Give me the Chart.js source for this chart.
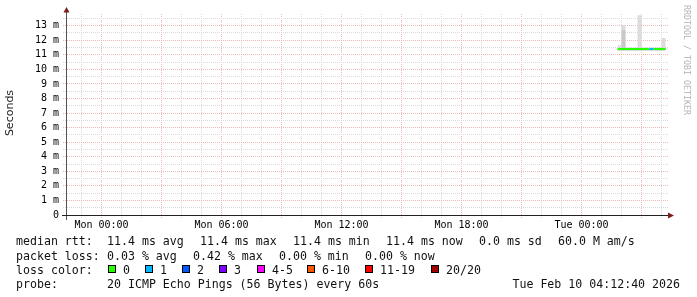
<!DOCTYPE html>
<html><head><meta charset="utf-8">
<script src="https://cdn.jsdelivr.net/npm/chart.js@4.4.1/dist/chart.umd.min.js"></script>
<style>
html,body{margin:0;padding:0;background:#fff;}
#wrap{position:relative;width:697px;height:297px;overflow:hidden;background:#fff;}
#c{position:absolute;left:0;top:0;}
.t{position:absolute;font-family:'DejaVu Sans Mono',monospace;font-size:11.6px;line-height:14px;height:14px;color:#111;white-space:pre;}
.box{position:absolute;width:6px;height:6px;border:1px solid #000;}
.rot{position:absolute;white-space:pre;text-align:center;transform-origin:50% 50%;}
</style></head>
<body>
<div id="wrap">
<canvas id="c" width="697" height="297"></canvas>
<div class="rot" style="left:-15px;top:106px;width:50px;height:14px;line-height:14px;transform:rotate(-90deg);font-family:'DejaVu Sans',sans-serif;font-size:11px;color:#222;">Seconds</div>
<div class="rot" style="left:627px;top:55px;width:120px;height:10px;line-height:10px;transform:rotate(90deg);font-family:'DejaVu Sans Mono',monospace;font-size:8.3px;color:#b4b4b4;">RRDTOOL / TOBI OETIKER</div>
<div id="legend"></div>
</div>
<script>
// ---- data (hours since Mon 00:00) ----
const hours      = [25.8, 26.0, 26.2, 26.4, 26.6, 26.8, 27.0, 27.2, 27.4, 27.6, 27.8, 28.0, 28.21];
const medianRtt  = [11.4, 11.4, 11.4, 11.4, 11.4, 11.4, 11.4, 11.4, 11.4, 11.4, 11.4, 11.4, 11.4];
const lossCount  = [0, 0, 0, 0, 0, 0, 0, 0, 1, 0, 0, 0, 0];
const smokeMin   = [11.3, 11.3, 11.3, 11.3, 11.3, 11.3, 11.3, 11.3, 11.3, 11.3, 11.3, 11.3, 11.3];
const smokeInner = [11.45, 12.7, 11.45, 11.45, 11.45, 11.45, 11.45, 11.45, 11.45, 11.45, 11.45, 11.45, 11.45];
const smokeMax   = [11.65, 13.05, 11.5, 11.5, 11.5, 13.72, 11.5, 11.5, 11.5, 11.5, 11.5, 12.15, 12.15];
const xTickLabels = {0: 'Mon 00:00', 6: 'Mon 06:00', 12: 'Mon 12:00', 18: 'Mon 18:00', 24: 'Tue 00:00'};
const lossLabels = ['0', '1', '2', '3', '4-5', '6-10', '11-19', '20/20'];
const lossColors = ['#26ff00', '#00b8ff', '#0059ff', '#7e00ff', '#ff00ff', '#ff5500', '#ff0000', '#a10000'];
const rttStats   = ['11.4 ms avg', '11.4 ms max', '11.4 ms min', '11.4 ms now', '0.0 ms sd', '60.0 M am/s'];
const lossStats  = ['0.03 % avg', '0.42 % max', '0.00 % min', '0.00 % now'];
const probeText  = '20 ICMP Echo Pings (56 Bytes) every 60s';
const stampText  = 'Tue Feb 10 04:12:40 2026';

function lossIndex(n){
  if (n <= 3) return n;
  if (n <= 5) return 4;
  if (n <= 10) return 5;
  if (n <= 19) return 6;
  return 7;
}
const pts = arr => hours.map((h, i) => ({x: h, y: arr[i]}));

const MAJOR = '#efb8b8', MINOR = '#dadada';

const axesPlugin = {
  id: 'rrdAxes',
  afterDatasetsDraw(chart){
    const {ctx, chartArea: a} = chart;
    ctx.save();
    ctx.lineWidth = 1;
    ctx.strokeStyle = '#555';
    ctx.beginPath();
    ctx.moveTo(a.left - 0.5, 12);
    ctx.lineTo(a.left - 0.5, a.bottom + 5);
    ctx.stroke();
    ctx.strokeStyle = '#222';
    ctx.beginPath();
    ctx.moveTo(a.left - 5, a.bottom + 0.5);
    ctx.lineTo(a.right, a.bottom + 0.5);
    ctx.stroke();
    ctx.fillStyle = '#7f1d1d';
    ctx.beginPath();
    ctx.moveTo(a.left - 0.5, 7);
    ctx.lineTo(a.left - 3.5, 12.5);
    ctx.lineTo(a.left + 2.5, 12.5);
    ctx.closePath(); ctx.fill();
    ctx.beginPath();
    ctx.moveTo(a.right + 6, a.bottom + 0.5);
    ctx.lineTo(a.right, a.bottom - 2.5);
    ctx.lineTo(a.right, a.bottom + 3.5);
    ctx.closePath(); ctx.fill();
    ctx.restore();
  }
};

new Chart(document.getElementById('c'), {
  type: 'line',
  data: {
    datasets: [
      {data: pts(smokeMin), order: 4, stepped: 'before', borderWidth: 0, pointRadius: 0, fill: false, borderColor: 'rgba(0,0,0,0)'},
      {data: pts(smokeMax), order: 3, stepped: 'before', borderWidth: 0, pointRadius: 0, fill: 0, backgroundColor: '#dcdcdc', borderColor: 'rgba(0,0,0,0)'},
      {data: pts(smokeInner), order: 2, stepped: 'before', borderWidth: 0, pointRadius: 0, fill: 0, backgroundColor: '#c9c9c9', borderColor: 'rgba(0,0,0,0)'},
      {data: pts(medianRtt), order: 1, stepped: 'before', borderWidth: 2, pointRadius: 0, fill: false,
       borderColor: lossColors[0],
       segment: {borderColor: c => lossColors[lossIndex(lossCount[c.p0DataIndex])]}}
    ]
  },
  options: {
    responsive: false,
    animation: false,
    devicePixelRatio: 1,
    layout: {padding: {left: 0, right: 29, top: 14, bottom: 0}},
    plugins: {legend: {display: false}, tooltip: {enabled: false}},
    scales: {
      x: {
        type: 'linear', min: -1.725, max: 28.325,
        afterFit: s => { s.height = 82; },
        ticks: {stepSize: 1, includeBounds: false, autoSkip: false, maxRotation: 0, minRotation: 0, padding: 0,
          color: '#000', font: {family: 'DejaVu Sans Mono', size: 10},
          callback: v => xTickLabels[v] || ''},
        grid: {color: c => (c.tick && c.tick.value % 3 === 0) ? MAJOR : MINOR,
          tickColor: c => (c.tick && c.tick.value % 3 === 0) ? MAJOR : MINOR,
          tickLength: 4, drawTicks: true, tickBorderDash: [1, 1], lineWidth: 1},
        border: {display: false, dash: [1, 1]}
      },
      y: {
        type: 'linear', min: 0, max: 13.8,
        afterFit: s => { s.width = 67; },
        ticks: {stepSize: 0.5, includeBounds: false, autoSkip: false, padding: 4,
          color: '#000', font: {family: 'DejaVu Sans Mono', size: 10},
          callback: v => Number.isInteger(v) ? (v === 0 ? '0' : v + ' m') : ''},
        grid: {color: c => (c.tick && Number.isInteger(c.tick.value)) ? MAJOR : MINOR,
          tickColor: c => (c.tick && Number.isInteger(c.tick.value)) ? MAJOR : MINOR,
          tickLength: 4, drawTicks: true, tickBorderDash: [1, 1], lineWidth: 1},
        border: {display: false, dash: [1, 1]}
      }
    }
  },
  plugins: [axesPlugin]
});

// ---- text legend (HTML) ----
const legend = document.getElementById('legend');
function txt(s, x, cy, extra){
  const d = document.createElement('div');
  d.className = 't';
  d.textContent = s;
  d.style.left = x + 'px';
  d.style.top = Math.round(cy - 7) + 'px';
  if (extra) Object.assign(d.style, extra);
  legend.appendChild(d);
  return d;
}
const rowY = [241, 255.5, 269.5, 284];
txt('median rtt:', 16, rowY[0]);
const rttX = [107, 200, 293, 386, 479, 558];
rttStats.forEach((s, i) => txt(s, rttX[i], rowY[0]));
txt('packet loss:', 16, rowY[1]);
const lossX = [107, 193, 279, 365];
lossStats.forEach((s, i) => txt(s, lossX[i], rowY[1]));
txt('loss color:', 16, rowY[2]);
const boxX = [108, 145, 182, 219, 257, 307, 365, 431];
lossLabels.forEach((s, i) => {
  const b = document.createElement('div');
  b.className = 'box';
  b.style.left = boxX[i] + 'px';
  b.style.top = Math.round(rowY[2] - 4.5) + 'px';
  b.style.background = lossColors[i];
  legend.appendChild(b);
  txt(s, boxX[i] + 15, rowY[2]);
});
txt('probe:', 16, rowY[3]);
txt(probeText, 107, rowY[3]);
txt(stampText, 0, rowY[3], {left: 'auto', right: '17px'});
</script>
</body></html>
